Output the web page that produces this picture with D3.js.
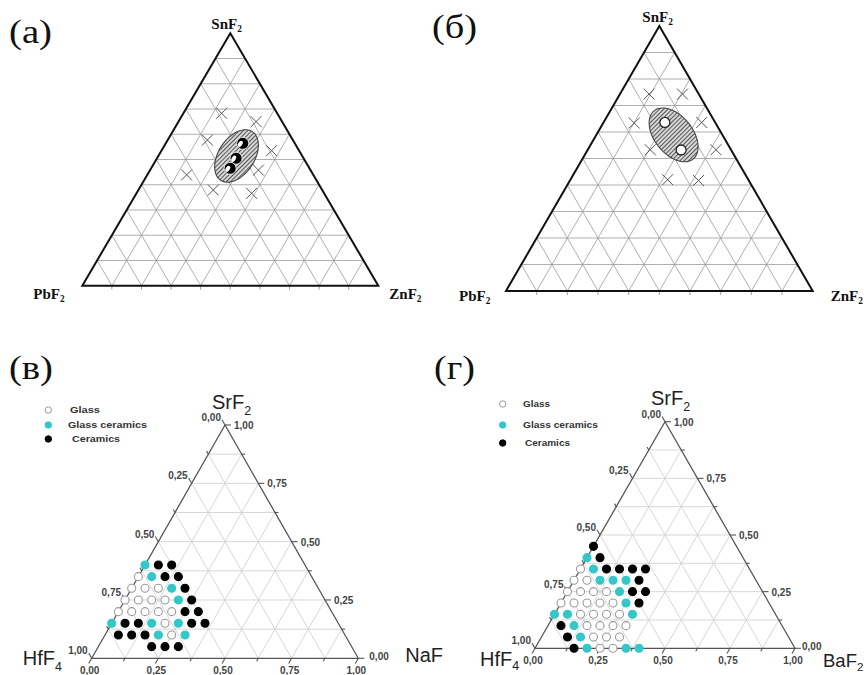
<!DOCTYPE html>
<html><head><meta charset="utf-8">
<script src="https://cdn.jsdelivr.net/npm/d3@7"></script>
<style>body{margin:0;background:#fff}</style>
</head><body><svg id="c" width="864" height="675"></svg>
<script>
// ---------------- DATA ----------------
const panelLabels = ["(а)", "(б)", "(в)", "(г)"];
const topNames = [["Sn","2"], ["Pb","2"], ["Zn","2"]];          // apex, left, right (F)
const namesV = [["SrF","2"], ["HfF","4"], ["NaF",""]];
const namesG = [["SrF","2"], ["HfF","4"], ["BaF","2"]];
const tickValues = [0, 0.25, 0.5, 0.75, 1];
const tickLabels = ["0,00", "0,25", "0,50", "0,75", "1,00"];
const legendLabels = ["Glass", "Glass ceramics", "Ceramics"];

// panel (а): [SnF2, ZnF2] mole fractions
const aCrosses = [[0.683,0.129],[0.650,0.262],[0.577,0.134],[0.535,0.372],
                  [0.439,0.133],[0.458,0.366],[0.379,0.253],[0.366,0.389]];
const aRegion = [0.514, 0.264];
const aPoints = [[0.564,0.260],[0.505,0.267],[0.465,0.267]];
// panel (б): [SnF2, ZnF2]
const bCrosses = [[0.743,0.095],[0.743,0.204],[0.634,0.101],[0.636,0.320],
                  [0.533,0.204],[0.533,0.418],[0.420,0.317],[0.417,0.419]];
const bRegion = [0.589, 0.252];
const bPoints = [[0.636,0.200],[0.532,0.305]];

// panel (в): [SrF2, NaF]
const vGlass = [[0.35,0],[0.30,0],[0.30,0.05],[0.30,0.10],[0.25,0],[0.25,0.05],[0.25,0.10],[0.25,0.15],
                [0.20,0],[0.20,0.05],[0.20,0.10],[0.20,0.15],[0.20,0.20],[0.15,0.20],[0.10,0.25]];
const vGlassCer = [[0.40,0],[0.35,0.05],[0.30,0.15],[0.25,0.20],[0.15,0],[0.15,0.15],[0.15,0.25],[0.10,0.20],[0.10,0.30]];
const vCeramics = [[0.40,0.05],[0.40,0.10],[0.35,0.10],[0.35,0.15],[0.30,0.20],[0.25,0.25],[0.20,0.25],[0.20,0.30],
                   [0.15,0.05],[0.15,0.10],[0.15,0.30],[0.15,0.35],[0.10,0.05],[0.10,0.10],[0.10,0.15],
                   [0.05,0.20],[0.05,0.25],[0.05,0.30]];
// panel (г): [SrF2, BaF2]
const gGlass = [[0.35,0],[0.30,0],[0.30,0.05],[0.25,0],[0.25,0.05],[0.25,0.10],[0.25,0.15],
                [0.20,0],[0.20,0.05],[0.20,0.10],[0.20,0.15],[0.20,0.20],[0.15,0.10],[0.15,0.15],[0.15,0.20],[0.15,0.25],
                [0.10,0.15],[0.10,0.20],[0.10,0.25],[0.10,0.30],[0.05,0.20],[0.05,0.25],[0.05,0.30],[0,0.25],[0,0.30]];
const gGlassCer = [[0.40,0],[0.35,0.05],[0.30,0.10],[0.30,0.15],[0.30,0.20],[0.25,0.20],[0.20,0.25],
                   [0.15,0],[0.15,0.05],[0.15,0.30],[0.10,0.10],[0.05,0.15],[0,0.20],[0,0.35],[0,0.40]];
const gCeramics = [[0.45,0],[0.40,0.05],[0.35,0.10],[0.35,0.15],[0.35,0.20],[0.35,0.25],[0.30,0.25],
                   [0.25,0.25],[0.25,0.30],[0.20,0.30],[0.10,0.05],[0.05,0.10],[0,0.15]];

// ---------------- DRAWING ----------------
const svg = d3.select("#c");
svg.append("rect").attr("width",864).attr("height",675).attr("fill","#fff");
const defs = svg.append("defs");
const pat = defs.append("pattern").attr("id","hatch").attr("patternUnits","userSpaceOnUse")
  .attr("width",3).attr("height",3).attr("patternTransform","rotate(45)");
pat.append("rect").attr("width",3).attr("height",3).attr("fill","#d8d8d8");
pat.append("line").attr("x1",0.5).attr("y1",0).attr("x2",0.5).attr("y2",3).attr("stroke","#555").attr("stroke-width",1);

function makeTernary(geo) {
  const x = d3.scaleLinear().domain([0,1]).range([geo.lx, geo.rx]);
  const y = d3.scaleLinear().domain([0,1]).range([geo.by, geo.ay]);
  const pt = (top, right) => [x(right + top/2), y(top)];
  return {x, y, pt};
}
function grid(g, T, n, color, w) {
  const lines = [];
  for (let i = 1; i < n; i++) {
    const k = i / n;
    lines.push([T.pt(k,0), T.pt(k,1-k)]);
    lines.push([T.pt(0,k), T.pt(1-k,k)]);
    lines.push([T.pt(0,1-k), T.pt(1-k,0)]);
  }
  g.selectAll(null).data(lines).join("line")
    .attr("x1", d=>d[0][0]).attr("y1", d=>d[0][1]).attr("x2", d=>d[1][0]).attr("y2", d=>d[1][1])
    .attr("stroke", color).attr("stroke-width", w);
}
function outline(g, T, color, w) {
  g.append("path").attr("d", d3.line()([T.pt(1,0), T.pt(0,0), T.pt(0,1)]) + "Z")
    .attr("fill","none").attr("stroke",color).attr("stroke-width",w).attr("stroke-linejoin","miter");
}
function chem(g, x, y, base, sub, size, family, weight, color, subDy) {
  const t = g.append("text").attr("x",x).attr("y",y).attr("font-family",family)
    .attr("font-size",size).attr("font-weight",weight).attr("fill",color);
  t.append("tspan").text(base);
  if (sub) t.append("tspan").attr("dy",subDy).attr("font-size",size*0.62).text(sub);
  return t;
}
function ellipsePath(cx, cy, rx, ry, deg) {
  const a = deg * Math.PI / 180;
  const pts = d3.range(0, 72).map(i => {
    const t = i / 72 * 2 * Math.PI;
    const ex = rx * Math.cos(t), ey = ry * Math.sin(t);
    return [cx + ex*Math.cos(a) - ey*Math.sin(a), cy + ex*Math.sin(a) + ey*Math.cos(a)];
  });
  return d3.line().curve(d3.curveCardinalClosed)(pts);
}

// ---- panels а, б ----
function drawTop(geo, label, labelPos, crosses, region, regionRot, points, pointStyle, namePos) {
  const g = svg.append("g");
  const T = makeTernary(geo);
  grid(g, T, 10, "#9a9a9a", 0.8);
  // small ticks under the base
  g.selectAll(null).data(d3.range(1,10).map(i=>i/10)).join("line")
    .attr("x1", d=>T.pt(0,d)[0]).attr("x2", d=>T.pt(0,d)[0])
    .attr("y1", geo.by).attr("y2", geo.by+4).attr("stroke","#888").attr("stroke-width",0.8);
  outline(g, T, "#111", 2);
  // crosses
  const s = 5.5;
  g.selectAll(null).data(crosses).join("path")
    .attr("d", d => { const [cx,cy] = T.pt(d[0],d[1]);
      return `M${cx-s},${cy-s}L${cx+s},${cy+s}M${cx-s},${cy+s}L${cx+s},${cy-s}`; })
    .attr("stroke","#555").attr("stroke-width",1).attr("fill","none");
  // hatched region
  const [ex,ey] = T.pt(region[0], region[1]);
  g.append("path").attr("d", ellipsePath(ex, ey, regionRot.rx, regionRot.ry, regionRot.a))
    .attr("fill","url(#hatch)").attr("stroke","#444").attr("stroke-width",1.1);
  // points
  points.forEach(d => {
    const [px,py] = T.pt(d[0],d[1]);
    if (pointStyle === "sphere") {
      g.append("circle").attr("cx",px).attr("cy",py).attr("r",6).attr("fill","#000").attr("stroke","#fff").attr("stroke-width",0.8);
      g.append("ellipse").attr("cx",px-2.4).attr("cy",py+0.5).attr("rx",2).attr("ry",3.4)
        .attr("transform",`rotate(30,${px-2.4},${py+0.5})`).attr("fill","#fff");
    } else {
      g.append("circle").attr("cx",px).attr("cy",py).attr("r",5).attr("fill","#fff").attr("stroke","#222").attr("stroke-width",1.3);
    }
  });
  // component labels
  const serif = "'Liberation Serif','Times New Roman',serif";
  const A = T.pt(1,0), L = T.pt(0,0), R = T.pt(0,1);
  chem(g, A[0]+namePos.ax, A[1]+namePos.ay, topNames[0][0]+"F", topNames[0][1], 15, serif, "bold", "#111", 3);
  chem(g, L[0]+namePos.lx, L[1]+namePos.ly, topNames[1][0]+"F", topNames[1][1], 15, serif, "bold", "#111", 3);
  chem(g, R[0]+namePos.rx, R[1]+namePos.ry, topNames[2][0]+"F", topNames[2][1], 15, serif, "bold", "#111", 3);
  g.append("text").attr("x",labelPos[0]).attr("y",labelPos[1]).attr("font-family",serif)
    .attr("font-size",33).attr("fill","#111").attr("textLength",labelPos[2]).attr("lengthAdjust","spacingAndGlyphs").text(label);
}

drawTop({lx:82.3, rx:378.3, by:285.7, ay:33.3}, panelLabels[0], [9,43,43], aCrosses, aRegion,
  {rx:29, ry:18, a:-57}, aPoints, "sphere", {ax:-19, ay:-4, lx:-49, ly:13, rx:11, ry:13});
drawTop({lx:506, rx:812.7, by:291, ay:26}, panelLabels[1], [432,38,45], bCrosses, bRegion,
  {rx:31, ry:19, a:51}, bPoints, "open", {ax:-17, ay:-4, lx:-47, ly:10, rx:18, ry:10});

// ---- panels в, г ----
const markerStyles = [
  {fill:"#fff", stroke:"#9a9a9a"},
  {fill:"#33c7c7", stroke:"#33c7c7"},
  {fill:"#000", stroke:"#000"}
];
function drawOrigin(geo, label, labelPos, names, sets, legend, np) {
  const g = svg.append("g");
  const T = makeTernary(geo);
  grid(g, T, 8, "#d2d2d2", 0.9);
  outline(g, T, "#555", 1.3);
  const sans = "Arial, 'Liberation Sans', sans-serif";
  const tickG = g.append("g").attr("stroke","#555").attr("stroke-width",1.1);
  const all = d3.range(0,9).map(i=>i/8);
  all.forEach(v => {
    const major = tickValues.includes(v);
    const len = major ? 6 : 3.5;
    let p = T.pt(1-v, 0);                       // left axis (HfF4 = v)
    tickG.append("line").attr("x1",p[0]).attr("y1",p[1]).attr("x2",p[0]-0.5*len).attr("y2",p[1]-0.866*len);
    p = T.pt(v, 1-v);                           // right axis (SrF2 = v)
    tickG.append("line").attr("x1",p[0]).attr("y1",p[1]).attr("x2",p[0]+len).attr("y2",p[1]);
    p = T.pt(0, v);                             // bottom axis
    tickG.append("line").attr("x1",p[0]).attr("y1",p[1]).attr("x2",p[0]-0.5*len).attr("y2",p[1]+0.866*len);
  });
  const tl = g.append("g").attr("font-family",sans).attr("font-size",10).attr("font-weight","bold").attr("fill","#444");
  tickValues.forEach((v,i) => {
    let p = T.pt(1-v, 0);
    tl.append("text").attr("x",p[0]-4).attr("y",p[1]-4).attr("text-anchor","end").text(tickLabels[i]);
    p = T.pt(v, 1-v);
    tl.append("text").attr("x",p[0]+(v===0?np.r0:9)).attr("y",p[1]+(v===0?2:4)).text(tickLabels[i]);
    p = T.pt(0, v);
    tl.append("text").attr("x",p[0]-2).attr("y",p[1]+16).attr("text-anchor","middle").text(tickLabels[i]);
  });
  // data
  sets.forEach((set, si) => {
    g.selectAll(null).data(set).join("circle")
      .attr("cx", d=>T.pt(d[0],d[1])[0]).attr("cy", d=>T.pt(d[0],d[1])[1]).attr("r",4)
      .attr("fill", markerStyles[si].fill).attr("stroke", markerStyles[si].stroke).attr("stroke-width",1.1);
  });
  // legend
  legend.rows.forEach((ry, i) => {
    g.append("circle").attr("cx",legend.x).attr("cy",ry).attr("r",3.2)
      .attr("fill", markerStyles[i].fill).attr("stroke", markerStyles[i].stroke).attr("stroke-width",1);
    g.append("text").attr("x",legend.tx[i]).attr("y",ry+3).attr("font-family",sans).attr("font-size",9.5)
      .attr("font-weight","bold").attr("fill","#333").attr("textLength",legend.tw[i]).attr("lengthAdjust","spacingAndGlyphs")
      .text(legendLabels[i]);
  });
  // names
  const A = T.pt(1,0), L = T.pt(0,0), R = T.pt(0,1);
  chem(g, A[0]+np.ax, A[1]+np.ay, names[0][0], names[0][1], 20, sans, "normal", "#222", 6);
  chem(g, L[0]+np.lx, L[1]+np.ly, names[1][0], names[1][1], 20, sans, "normal", "#222", np.sd);
  chem(g, R[0]+np.rx, R[1]+np.ry, names[2][0], names[2][1], np.rs, sans, "normal", "#222", np.sd);
  g.append("text").attr("x",labelPos[0]).attr("y",labelPos[1]).attr("font-family","'Liberation Serif','Times New Roman',serif")
    .attr("font-size",33).attr("fill","#111").attr("textLength",labelPos[2]).attr("lengthAdjust","spacingAndGlyphs").text(label);
}

drawOrigin({lx:91.7, rx:358.3, by:658.3, ay:425}, panelLabels[2], [9,379,44], namesV,
  [vGlass, vGlassCer, vCeramics], {x:48.3, rows:[410,425,439], tx:[70,68,72], tw:[30,79,48]},
  {ax:-13, ay:-16, lx:-69, ly:7, rx:47, ry:4, sd:6, rs:20, r0:11});
drawOrigin({lx:535, rx:795, by:648.3, ay:421.7}, panelLabels[3], [434,379,41], namesG,
  [gGlass, gGlassCer, gCeramics], {x:502.7, rows:[404,425,443], tx:[523,523,525], tw:[27,75,45]},
  {ax:-14, ay:-17, lx:-55, ly:18, rx:28, ry:19, sd:4, rs:18.5, r0:7});
</script>
</body></html>
